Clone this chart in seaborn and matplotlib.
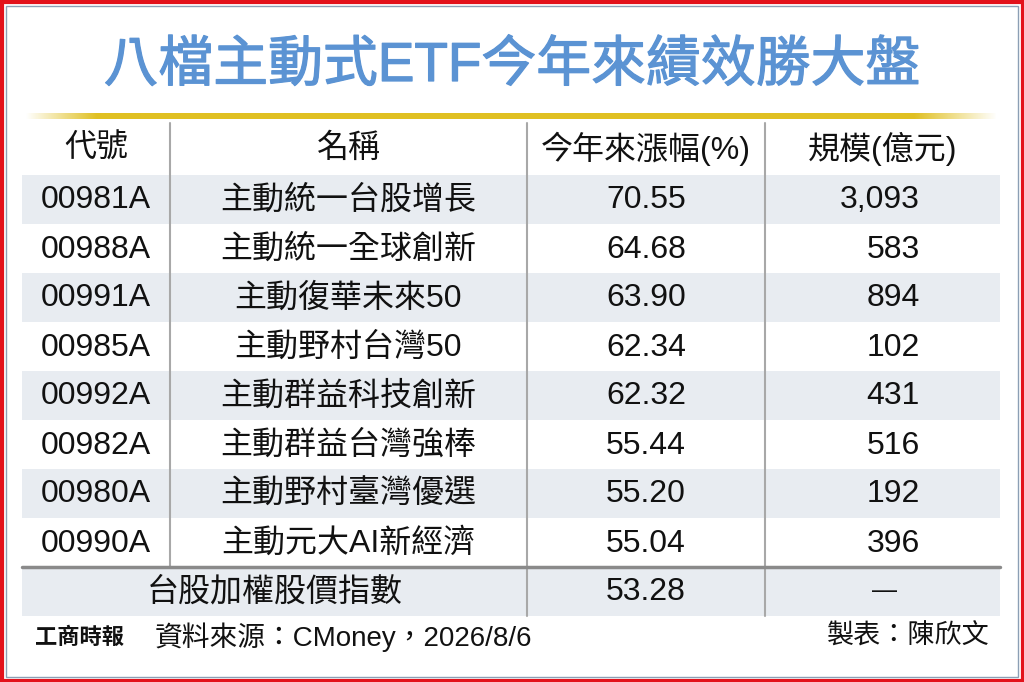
import numpy as np
import pandas as pd
import seaborn as sns
import matplotlib.pyplot as plt
import matplotlib.patheffects as pe
from matplotlib.colors import ListedColormap
from matplotlib.patches import Rectangle

# data
title = '八檔主動式ETF今年來績效勝大盤'
headers = ['代號', '名稱', '今年來漲幅(%)', '規模(億元)']
codes = ['00981A', '00988A', '00991A', '00985A', '00992A', '00982A', '00980A', '00990A']
names = ['主動統一台股增長', '主動統一全球創新', '主動復華未來50', '主動野村台灣50',
         '主動群益科技創新', '主動群益台灣強棒', '主動野村臺灣優選', '主動元大AI新經濟']
returns = [70.55, 64.68, 63.90, 62.34, 62.32, 55.44, 55.20, 55.04]
sizes = [3093, 583, 894, 102, 431, 516, 192, 396]
index_name = '台股加權股價指數'
index_return = 53.28
paper = '工商時報'
source = '資料來源：CMoney，2026/8/6'
maker = '製表：陳欣文'

sns.set_theme(style='white')
plt.rcParams['font.family'] = ['Liberation Sans', 'Noto Sans CJK TC', 'DejaVu Sans']

W, H = 1024, 682
fig = plt.figure(figsize=(W / 100, H / 100), dpi=100)
fig.patch.set_facecolor('white')

# layout (pixels)
col_edges = [22, 170, 527, 765, 1000]
row_top = 175
row_h = 49
n_rows = len(codes) + 1

# row bands drawn with a seaborn heatmap
band = pd.DataFrame({'band': [(i + 1) % 2 for i in range(len(codes))] + [1]})
hm = fig.add_axes([col_edges[0] / W, 1 - (row_top + n_rows * row_h) / H,
                   (col_edges[-1] - col_edges[0]) / W, n_rows * row_h / H])
sns.heatmap(band, ax=hm, cmap=ListedColormap(['white', '#e8ecf1']), vmin=0, vmax=1,
            cbar=False, xticklabels=False, yticklabels=False)
hm.axis('off')

ov = fig.add_axes([0, 0, 1, 1])
ov.set_xlim(0, W)
ov.set_ylim(H, 0)
ov.axis('off')
ov.patch.set_alpha(0)

# frame
ov.add_patch(Rectangle((1.5, 1.5), W - 3, H - 3, fill=False, edgecolor='#e3121b', lw=3))
ov.add_patch(Rectangle((6, 6), W - 12, H - 11, fill=False, edgecolor='#8c9fb5', lw=1))

# title
ov.text(W / 2, 67, title, ha='center', va='center', fontsize=39.5, color='#5b93d3',
        family=['Liberation Sans', 'Noto Sans CJK TC'],
        path_effects=[pe.withStroke(linewidth=0.9, foreground='#5b93d3')])

# gold rule with faded ends
grad = np.ones(400)
grad[:30] = np.linspace(0, 1, 30)
grad[-35:] = np.linspace(1, 0, 35)
rgba = np.zeros((1, 400, 4))
rgba[..., 0] = 0xe0 / 255
rgba[..., 1] = 0xc0 / 255
rgba[..., 2] = 0x22 / 255
rgba[0, :, 3] = grad
ov.imshow(rgba, extent=(25, 998, 119, 113), aspect='auto', interpolation='bilinear')
ov.set_xlim(0, W)
ov.set_ylim(H, 0)

# header
head_y = 149
centers = [(col_edges[i] + col_edges[i + 1]) / 2 for i in range(4)]
for cx, h in zip(centers, headers):
    ov.text(cx, head_y, h, ha='center', va='center', fontsize=23, color='#111111')

# body
right_x = 920
for i in range(len(codes)):
    y = row_top + row_h * (i + 0.5) + 1
    ov.text(centers[0], y, codes[i], ha='center', va='center', fontsize=23, color='#111111')
    ov.text(centers[1], y, names[i], ha='center', va='center', fontsize=23, color='#111111')
    ov.text(centers[2], y, f'{returns[i]:.2f}', ha='center', va='center', fontsize=23, color='#111111')
    ov.text(right_x, y, f'{sizes[i]:,}', ha='right', va='center', fontsize=23, color='#111111')

yi = row_top + row_h * (len(codes) + 0.5) + 1
ov.text((col_edges[0] + col_edges[2]) / 2, yi, index_name, ha='center', va='center',
        fontsize=23, color='#111111')
ov.text(centers[2], yi, f'{index_return:.2f}', ha='center', va='center', fontsize=23, color='#111111')
ov.text(885, yi - 2, '—', ha='center', va='center', fontsize=18, color='#111111')

# grid lines
sep_y = row_top + row_h * len(codes)
ov.plot([col_edges[1]] * 2, [123, sep_y], color='#a8a8a8', lw=1.5)
for x in col_edges[2:4]:
    ov.plot([x, x], [123, row_top + row_h * n_rows], color='#a8a8a8', lw=1.5)
ov.plot([col_edges[0], col_edges[-1]], [sep_y, sep_y], color='#8a8a8a', lw=2.5)

# footer
ov.text(35, 637, paper, ha='left', va='center', fontsize=16, fontweight='bold',
        color='#111111', family=['Noto Sans CJK TC'])
ov.text(155, 637, source, ha='left', va='center', fontsize=20, color='#111111')
ov.text(990, 637, maker, ha='right', va='center', fontsize=19.5, color='#111111')

fig.savefig('out.png', dpi=100)
